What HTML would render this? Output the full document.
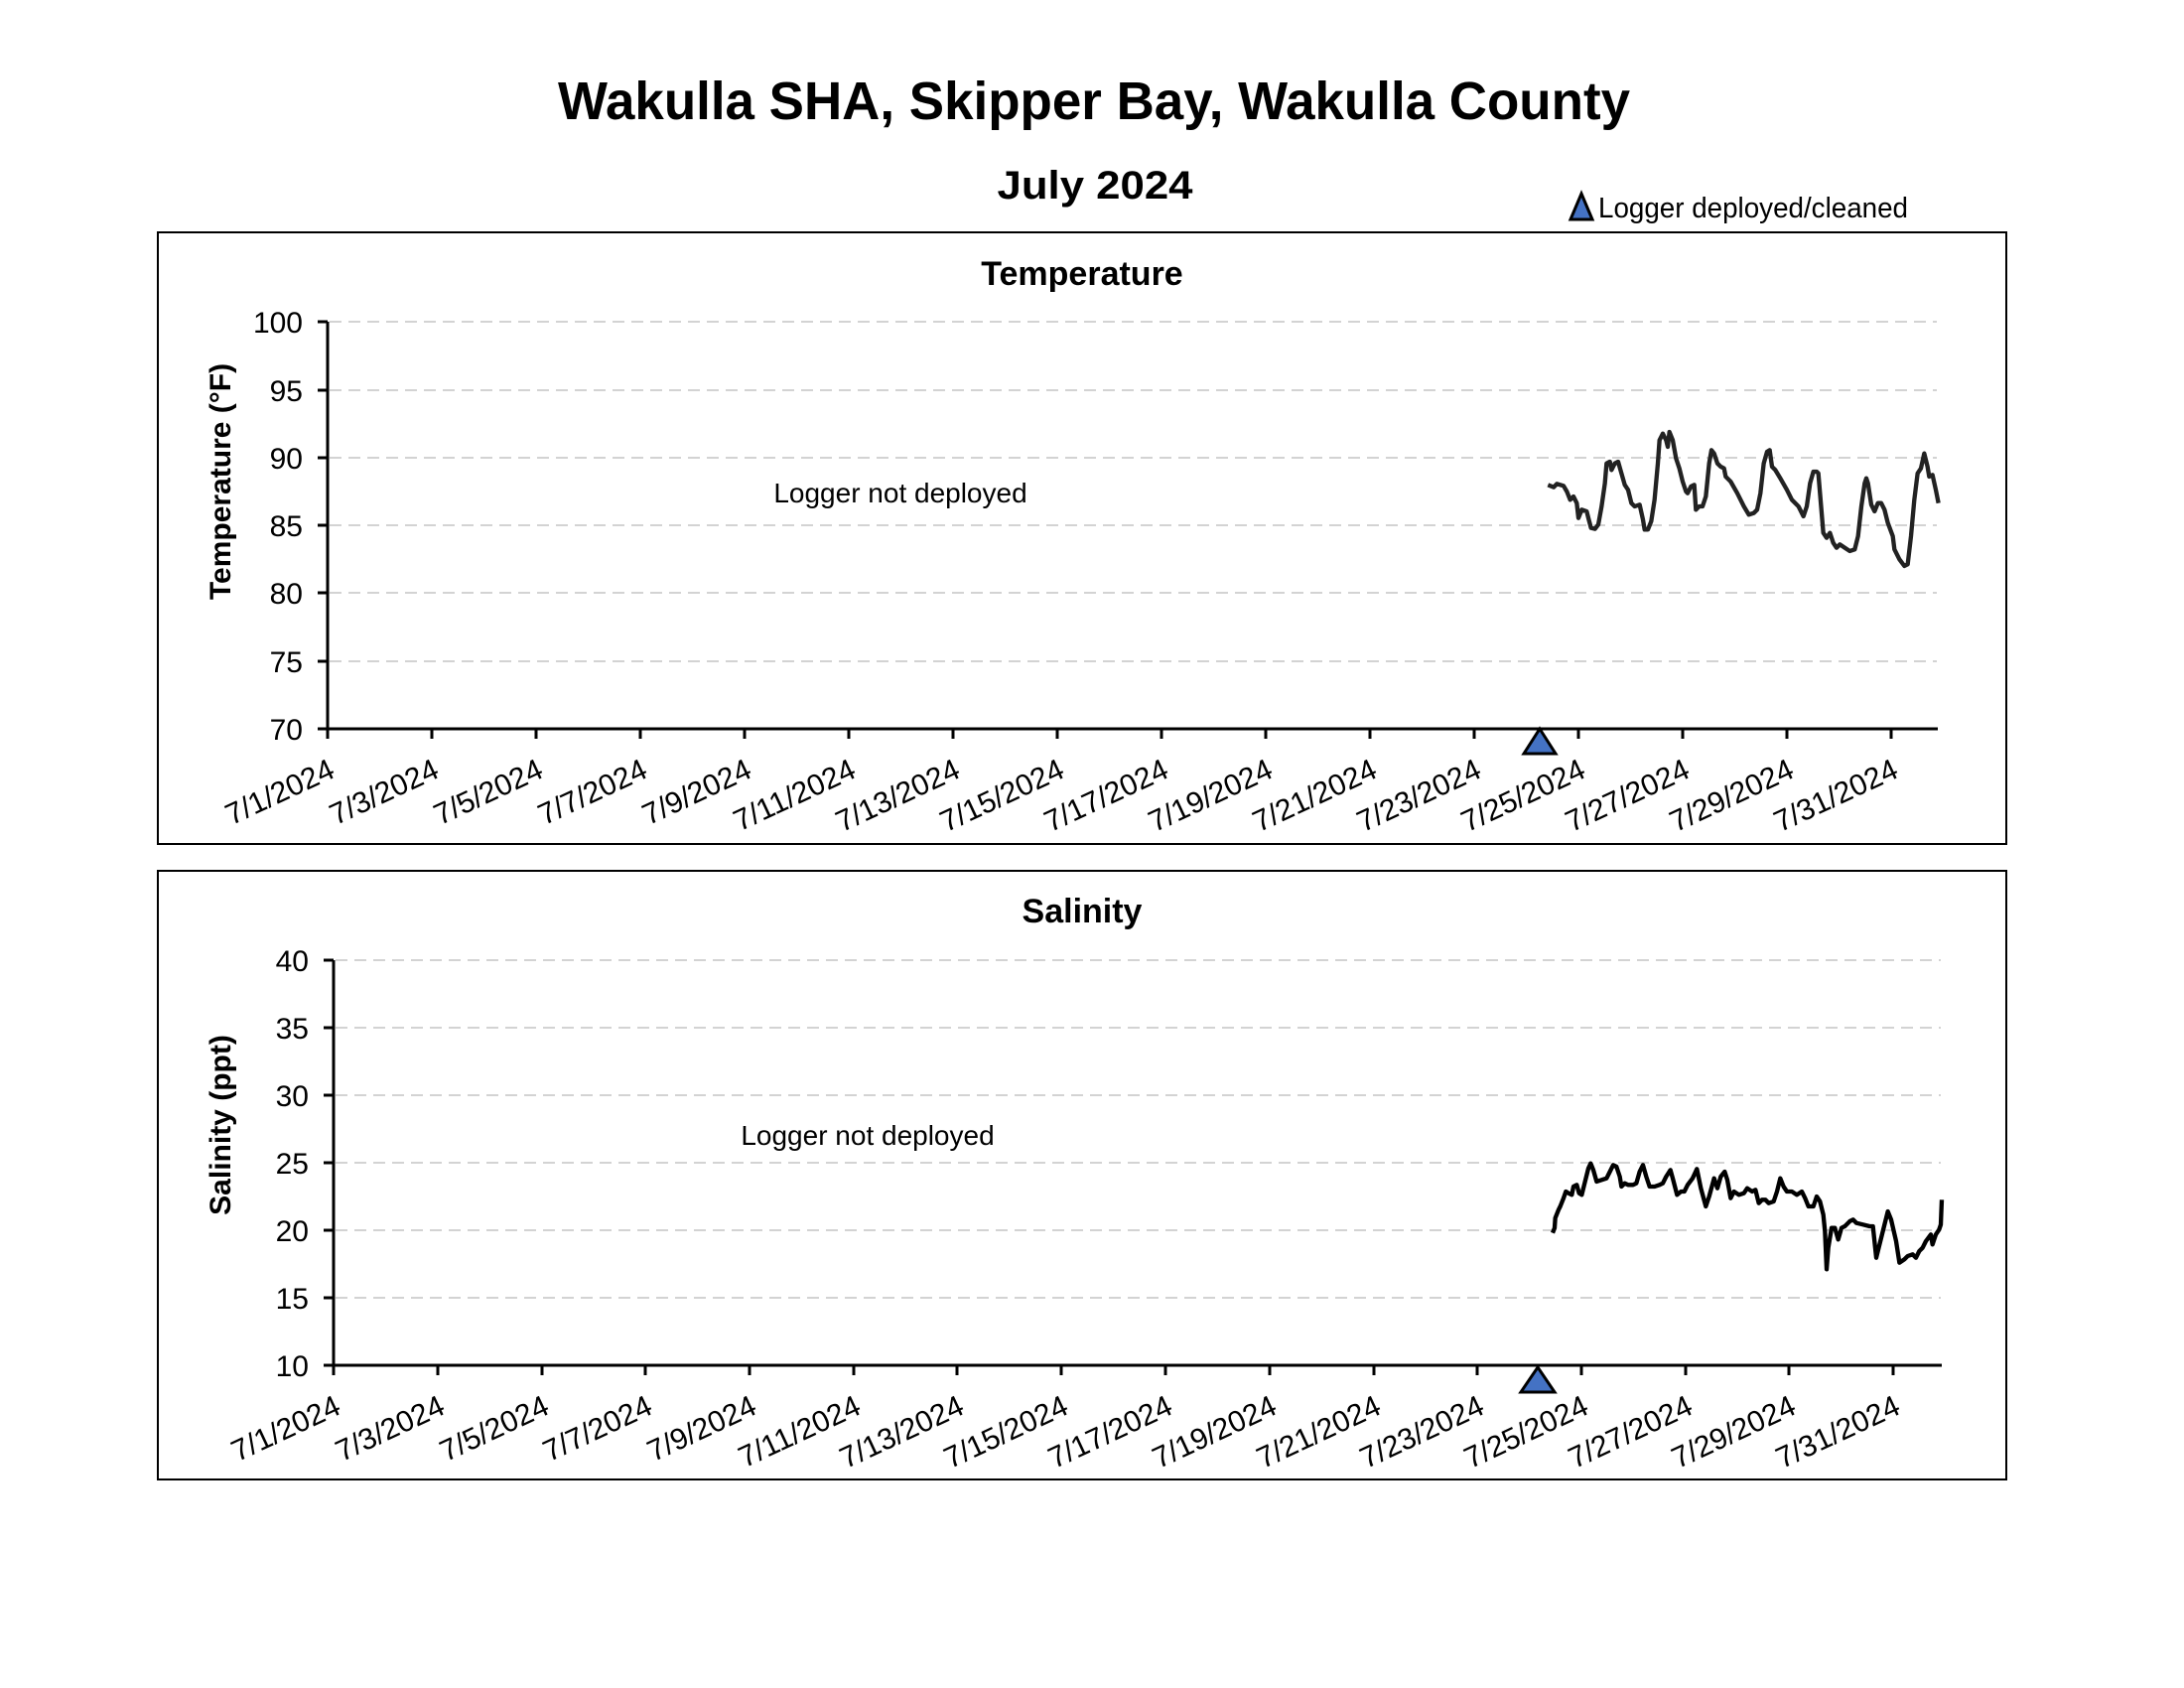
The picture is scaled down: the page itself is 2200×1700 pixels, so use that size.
<!DOCTYPE html>
<html><head><meta charset="utf-8"><style>html,body{margin:0;padding:0;background:#fff}svg{display:block}</style></head>
<body>
<svg width="2200" height="1700" viewBox="0 0 2200 1700" xmlns="http://www.w3.org/2000/svg" font-family="Liberation Sans, Arial, sans-serif">
<rect width="2200" height="1700" fill="#fff"/>
<text x="1102" y="120" font-size="54" font-weight="bold" text-anchor="middle" textLength="1080" lengthAdjust="spacingAndGlyphs">Wakulla SHA, Skipper Bay, Wakulla County</text>
<text x="1103" y="200" font-size="40" font-weight="bold" text-anchor="middle" textLength="197" lengthAdjust="spacingAndGlyphs">July 2024</text>
<polygon points="1593,195 1604,221 1582,221" fill="#4472c4" stroke="#000" stroke-width="3"/>
<text x="1610" y="219" font-size="29" textLength="312" lengthAdjust="spacingAndGlyphs">Logger deployed/cleaned</text>

<!-- Temperature chart -->
<rect x="159" y="234" width="1862" height="616" fill="none" stroke="#000" stroke-width="2"/>
<text x="1090" y="287" font-size="34" font-weight="bold" text-anchor="middle">Temperature</text>
<g stroke="#d3d3d3" stroke-width="2" stroke-dasharray="12,7">
<line x1="332" y1="324" x2="1951" y2="324"/><line x1="332" y1="393" x2="1951" y2="393"/>
<line x1="332" y1="461" x2="1951" y2="461"/><line x1="332" y1="529" x2="1951" y2="529"/>
<line x1="332" y1="597" x2="1951" y2="597"/><line x1="332" y1="666" x2="1951" y2="666"/>
</g>
<g stroke="#000" stroke-width="3">
<line x1="330" y1="324" x2="330" y2="734"/><line x1="330" y1="734" x2="1952" y2="734"/>
<line x1="320" y1="324" x2="330" y2="324"/><line x1="320" y1="393" x2="330" y2="393"/>
<line x1="320" y1="461" x2="330" y2="461"/><line x1="320" y1="529" x2="330" y2="529"/>
<line x1="320" y1="597" x2="330" y2="597"/><line x1="320" y1="666" x2="330" y2="666"/>
<line x1="320" y1="734" x2="330" y2="734"/>
</g>
<g stroke="#000" stroke-width="3">
<line x1="330" y1="734" x2="330" y2="744"/><line x1="435" y1="734" x2="435" y2="744"/><line x1="540" y1="734" x2="540" y2="744"/><line x1="645" y1="734" x2="645" y2="744"/><line x1="750" y1="734" x2="750" y2="744"/><line x1="855" y1="734" x2="855" y2="744"/><line x1="960" y1="734" x2="960" y2="744"/><line x1="1065" y1="734" x2="1065" y2="744"/><line x1="1170" y1="734" x2="1170" y2="744"/><line x1="1275" y1="734" x2="1275" y2="744"/><line x1="1380" y1="734" x2="1380" y2="744"/><line x1="1485" y1="734" x2="1485" y2="744"/><line x1="1590" y1="734" x2="1590" y2="744"/><line x1="1695" y1="734" x2="1695" y2="744"/><line x1="1800" y1="734" x2="1800" y2="744"/><line x1="1905" y1="734" x2="1905" y2="744"/>
</g>
<g font-size="30" text-anchor="end">
<text x="305" y="335">100</text><text x="305" y="404">95</text><text x="305" y="472">90</text><text x="305" y="540">85</text><text x="305" y="608">80</text><text x="305" y="677">75</text><text x="305" y="745">70</text>
</g>
<text transform="translate(232,485) rotate(-90)" font-size="30" font-weight="bold" text-anchor="middle">Temperature (°F)</text>
<text x="907" y="506" font-size="28" text-anchor="middle">Logger not deployed</text>
<g font-size="30" text-anchor="end">
<text transform="translate(339,782) rotate(-25)">7/1/2024</text>
<text transform="translate(444,782) rotate(-25)">7/3/2024</text>
<text transform="translate(549,782) rotate(-25)">7/5/2024</text>
<text transform="translate(654,782) rotate(-25)">7/7/2024</text>
<text transform="translate(759,782) rotate(-25)">7/9/2024</text>
<text transform="translate(864,782) rotate(-25)">7/11/2024</text>
<text transform="translate(969,782) rotate(-25)">7/13/2024</text>
<text transform="translate(1074,782) rotate(-25)">7/15/2024</text>
<text transform="translate(1179,782) rotate(-25)">7/17/2024</text>
<text transform="translate(1284,782) rotate(-25)">7/19/2024</text>
<text transform="translate(1389,782) rotate(-25)">7/21/2024</text>
<text transform="translate(1494,782) rotate(-25)">7/23/2024</text>
<text transform="translate(1599,782) rotate(-25)">7/25/2024</text>
<text transform="translate(1704,782) rotate(-25)">7/27/2024</text>
<text transform="translate(1809,782) rotate(-25)">7/29/2024</text>
<text transform="translate(1914,782) rotate(-25)">7/31/2024</text>
</g>
<g transform="translate(1500,400) scale(0.33333)">
<polyline fill="none" stroke="#222" stroke-width="13" stroke-linejoin="round" points="178,265 195,272 205,262 225,268 235,285 245,310 255,300 265,320 270,365 280,340 295,345 300,365 308,395 320,398 330,385 340,330 350,260 355,200 365,195 370,220 380,200 390,195 400,230 410,265 420,280 430,320 440,330 455,325 465,370 470,400 480,400 490,375 500,310 510,200 515,130 525,110 535,130 540,150 545,105 555,130 565,185 575,215 585,255 595,285 600,290 610,270 620,265 625,340 635,330 645,330 655,300 665,200 672,160 680,170 690,200 700,210 710,215 715,240 730,255 750,290 770,330 785,355 800,350 810,340 820,290 830,200 840,165 848,160 855,210 865,220 880,245 900,280 915,310 935,330 950,360 960,330 970,260 980,225 990,225 995,230 1000,290 1010,410 1020,425 1030,410 1040,440 1050,455 1060,445 1075,455 1090,465 1105,460 1115,420 1125,330 1135,260 1140,245 1145,260 1155,325 1165,345 1175,320 1185,320 1195,340 1205,380 1220,420 1225,460 1240,490 1255,510 1265,505 1275,420 1285,310 1295,230 1305,215 1315,170 1320,190 1325,210 1330,240 1340,235 1350,280 1358,320"/>
</g>
<polygon points="1551,734 1567,759 1535,759" fill="#4472c4" stroke="#000" stroke-width="3"/>

<!-- Salinity chart -->
<rect x="159" y="877" width="1862" height="613" fill="none" stroke="#000" stroke-width="2"/>
<text x="1090" y="929" font-size="34" font-weight="bold" text-anchor="middle">Salinity</text>
<g stroke="#d3d3d3" stroke-width="2" stroke-dasharray="12,7">
<line x1="338" y1="967" x2="1955" y2="967"/><line x1="338" y1="1035" x2="1955" y2="1035"/>
<line x1="338" y1="1103" x2="1955" y2="1103"/><line x1="338" y1="1171" x2="1955" y2="1171"/>
<line x1="338" y1="1239" x2="1955" y2="1239"/><line x1="338" y1="1307" x2="1955" y2="1307"/>
</g>
<g stroke="#000" stroke-width="3">
<line x1="336" y1="967" x2="336" y2="1375"/><line x1="336" y1="1375" x2="1956" y2="1375"/>
<line x1="326" y1="967" x2="336" y2="967"/><line x1="326" y1="1035" x2="336" y2="1035"/>
<line x1="326" y1="1103" x2="336" y2="1103"/><line x1="326" y1="1171" x2="336" y2="1171"/>
<line x1="326" y1="1239" x2="336" y2="1239"/><line x1="326" y1="1307" x2="336" y2="1307"/>
<line x1="326" y1="1375" x2="336" y2="1375"/>
</g>
<g stroke="#000" stroke-width="3">
<line x1="336" y1="1375" x2="336" y2="1385"/><line x1="441" y1="1375" x2="441" y2="1385"/><line x1="546" y1="1375" x2="546" y2="1385"/><line x1="650" y1="1375" x2="650" y2="1385"/><line x1="755" y1="1375" x2="755" y2="1385"/><line x1="860" y1="1375" x2="860" y2="1385"/><line x1="964" y1="1375" x2="964" y2="1385"/><line x1="1069" y1="1375" x2="1069" y2="1385"/><line x1="1174" y1="1375" x2="1174" y2="1385"/><line x1="1279" y1="1375" x2="1279" y2="1385"/><line x1="1384" y1="1375" x2="1384" y2="1385"/><line x1="1488" y1="1375" x2="1488" y2="1385"/><line x1="1593" y1="1375" x2="1593" y2="1385"/><line x1="1698" y1="1375" x2="1698" y2="1385"/><line x1="1802" y1="1375" x2="1802" y2="1385"/><line x1="1907" y1="1375" x2="1907" y2="1385"/>
</g>
<g font-size="30" text-anchor="end">
<text x="311" y="978">40</text><text x="311" y="1046">35</text><text x="311" y="1114">30</text><text x="311" y="1182">25</text><text x="311" y="1250">20</text><text x="311" y="1318">15</text><text x="311" y="1386">10</text>
</g>
<text transform="translate(232,1133) rotate(-90)" font-size="30" font-weight="bold" text-anchor="middle">Salinity (ppt)</text>
<text x="874" y="1153" font-size="28" text-anchor="middle">Logger not deployed</text>
<g font-size="30" text-anchor="end">
<text transform="translate(345,1423) rotate(-25)">7/1/2024</text>
<text transform="translate(450,1423) rotate(-25)">7/3/2024</text>
<text transform="translate(555,1423) rotate(-25)">7/5/2024</text>
<text transform="translate(659,1423) rotate(-25)">7/7/2024</text>
<text transform="translate(764,1423) rotate(-25)">7/9/2024</text>
<text transform="translate(869,1423) rotate(-25)">7/11/2024</text>
<text transform="translate(973,1423) rotate(-25)">7/13/2024</text>
<text transform="translate(1078,1423) rotate(-25)">7/15/2024</text>
<text transform="translate(1183,1423) rotate(-25)">7/17/2024</text>
<text transform="translate(1288,1423) rotate(-25)">7/19/2024</text>
<text transform="translate(1393,1423) rotate(-25)">7/21/2024</text>
<text transform="translate(1497,1423) rotate(-25)">7/23/2024</text>
<text transform="translate(1602,1423) rotate(-25)">7/25/2024</text>
<text transform="translate(1707,1423) rotate(-25)">7/27/2024</text>
<text transform="translate(1811,1423) rotate(-25)">7/29/2024</text>
<text transform="translate(1916,1423) rotate(-25)">7/31/2024</text>
</g>
<g transform="translate(1500,1140) scale(0.33333)">
<polyline fill="none" stroke="#000" stroke-width="13" stroke-linejoin="round" points="192,305 198,290 200,260 210,235 215,225 225,200 232,180 240,185 250,190 255,165 265,160 272,185 280,190 290,150 300,110 307,95 315,115 325,150 340,145 355,140 365,120 375,100 385,105 395,135 400,165 410,155 420,160 435,160 445,155 455,120 465,100 475,135 485,165 500,165 515,160 525,155 535,135 548,115 555,140 568,190 580,180 590,180 600,160 615,140 628,112 640,170 655,225 665,195 680,140 690,170 700,135 712,120 720,145 730,200 740,180 755,190 770,185 780,170 795,180 805,175 815,215 825,205 835,205 845,215 860,210 870,180 880,140 890,165 900,180 915,180 930,190 945,180 955,200 965,225 980,225 990,195 1000,210 1010,250 1015,300 1020,415 1025,350 1035,290 1045,290 1055,325 1065,290 1075,285 1090,270 1100,265 1110,275 1130,280 1150,285 1160,285 1170,380 1180,340 1195,280 1205,240 1215,265 1230,330 1240,395 1255,385 1265,375 1280,370 1290,380 1300,360 1310,350 1320,330 1335,310 1340,340 1350,310 1360,295 1365,280 1368,205"/>
</g>
<polygon points="1549,1377 1566,1402 1532,1402" fill="#4472c4" stroke="#000" stroke-width="3"/>
</svg>
</body></html>
